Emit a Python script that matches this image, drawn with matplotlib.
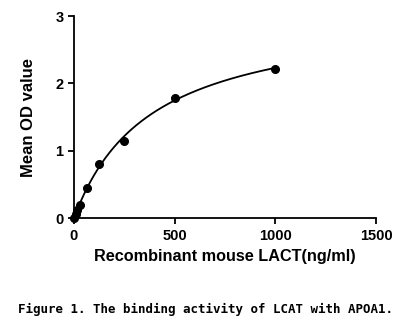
import numpy as np
import matplotlib.pyplot as plt

# concentrations (ng/ml) and mean OD
conc = [0, 7.8, 15.6, 31.25, 62.5, 125, 250, 500, 1000]
od = [0.0, 0.06, 0.12, 0.19, 0.45, 0.81, 1.15, 1.79, 2.22]

x_ticks = [0, 500, 1000, 1500]
y_ticks = [0, 1, 2, 3]

plt.rcParams['font.family'] = ['Liberation Sans', 'DejaVu Sans']

# one-site binding fit (Bmax*x/(Kd+x)), simple grid search on Kd
xd = np.array(conc, dtype=float)
yd = np.array(od, dtype=float)
best = None
for kd in np.linspace(50, 1500, 2000):
    f = xd / (kd + xd)
    bmax = (f @ yd) / (f @ f)
    err = np.sum((bmax * f - yd) ** 2)
    if best is None or err < best[0]:
        best = (err, kd, bmax)
_, kd, bmax = best
xs = np.linspace(0, max(conc), 300)
ys = bmax * xs / (kd + xs)

fig = plt.figure(figsize=(4.11, 3.28), dpi=100)
ax = fig.add_axes([0.18, 0.335, 0.735, 0.616])
ax.plot(xs, ys, color='black', lw=1.3, zorder=2)
ax.plot(conc, od, 'o', color='black', ms=5.5, zorder=3, clip_on=False)

ax.set_xlim(0, 1500)
ax.set_ylim(0, 3)
ax.set_xticks(x_ticks)
ax.set_yticks(y_ticks)
for s in ['top', 'right']:
    ax.spines[s].set_visible(False)
for s in ['left', 'bottom']:
    ax.spines[s].set_linewidth(1.3)
ax.tick_params(direction='out', width=1.3, length=4, labelsize=10.5)
for lab in ax.get_xticklabels() + ax.get_yticklabels():
    lab.set_fontweight('bold')
ax.set_xlabel('Recombinant mouse LACT(ng/ml)', fontsize=11.7, fontweight='bold', labelpad=5)
ax.set_ylabel('Mean OD value', fontsize=12, fontweight='bold', labelpad=14)

fig.text(0.5, 0.055, 'Figure 1. The binding activity of LCAT with APOA1.',
         ha='center', va='center', fontsize=9, fontweight='bold',
         family='DejaVu Sans Mono')

fig.savefig('out.png', dpi=100, facecolor='white')
